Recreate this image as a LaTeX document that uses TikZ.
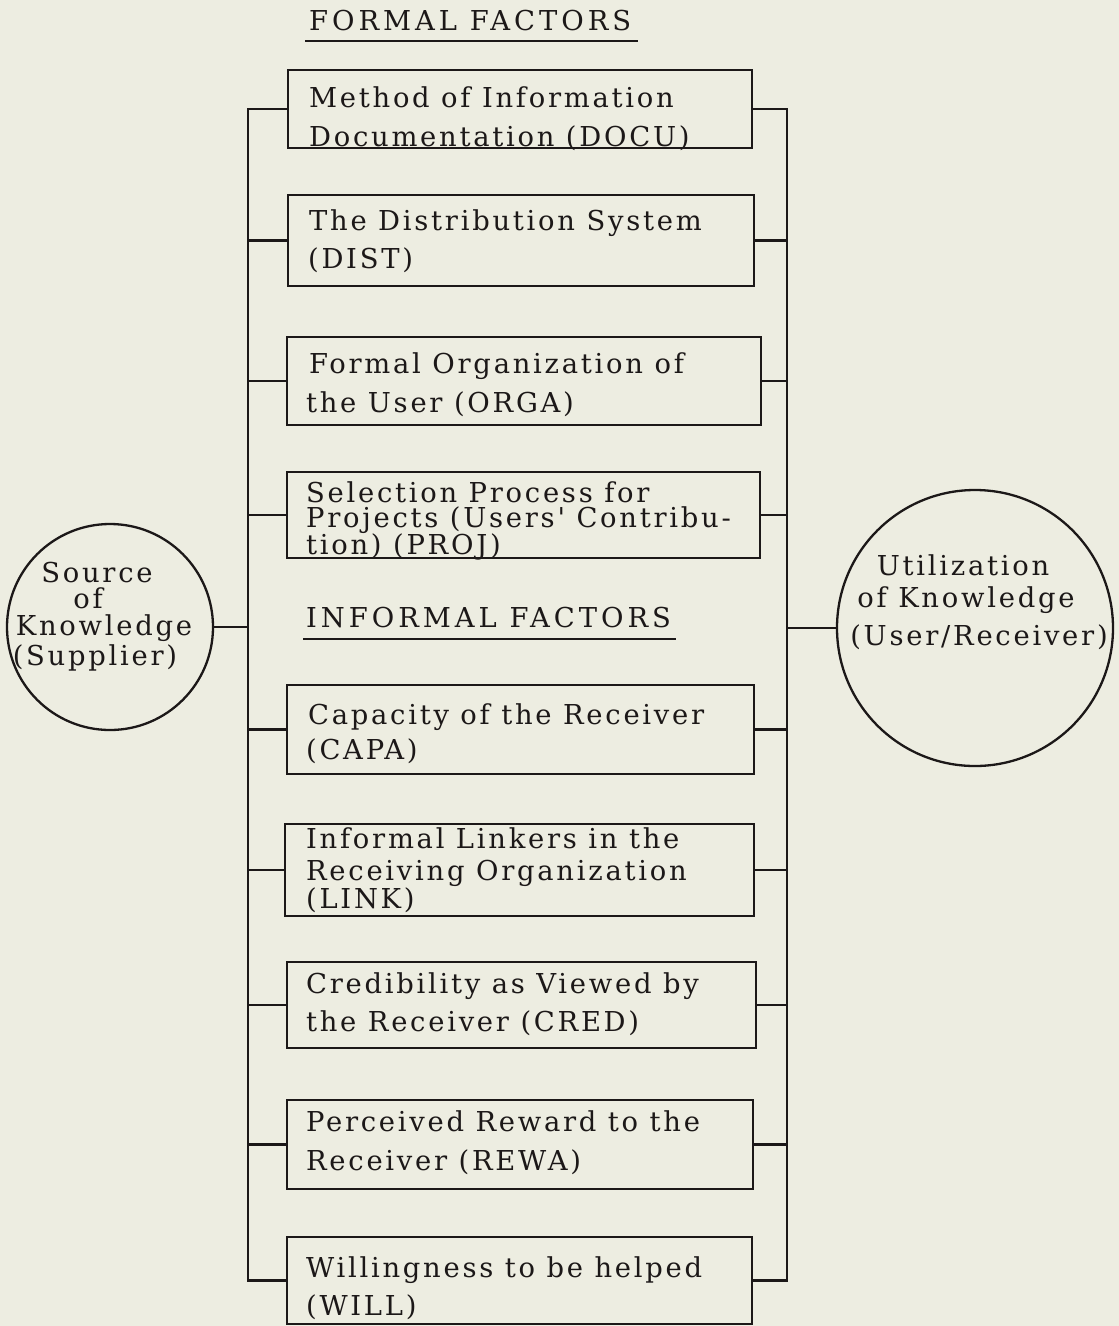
\documentclass[tikz,border=0pt]{standalone}
\usepackage{fontspec}
\newfontfamily\tw[LetterSpace=10]{DejaVu Serif}
\newfontfamily\twh[LetterSpace=14.5]{DejaVu Serif}
\definecolor{paper}{RGB}{237,237,225}
\definecolor{ink}{RGB}{28,24,24}
\begin{document}
\begin{tikzpicture}[x=1pt,y=-1pt,
  line width=2.2pt, draw=ink,
  txt/.style={inner sep=0pt, anchor=base west, text=ink, font=\tw\fontsize{27.4}{30}\selectfont},
  htxt/.style={inner sep=0pt, anchor=base west, text=ink, font=\twh\fontsize{27.4}{30}\selectfont},
  ctxt/.style={inner sep=0pt, anchor=base, text=ink, font=\tw\fontsize{27.4}{30}\selectfont},
  fbox/.style={draw=ink, line width=2.6pt, inner sep=0pt, rectangle},
  circ/.style={draw=ink, line width=2.3pt, circle, inner sep=0pt},
  wire/.style={draw=ink, line width=2.3pt}]
\fill[paper] (0,0) rectangle (1119,1326);
\useasboundingbox (0,0) rectangle (1119,1326);

% bus coordinates
\coordinate (L) at (248,0);
\coordinate (R) at (787,0);

% headings
\node[htxt] (hf) at (308,30) {FORMAL FACTORS};
\draw[wire] (305,41) coordinate (hfa) -- (638,41) coordinate (hfb);
\node[htxt] (hi) at (305,627) {INFORMAL FACTORS};
\draw[wire] (303,639) coordinate (hia) -- (676,639) coordinate (hib);

% boxes
\node[fbox, minimum width=464, minimum height=78] (b1) at (520,109) {};
\node[fbox, minimum width=466, minimum height=91] (b2) at (521,240.5) {};
\node[fbox, minimum width=474, minimum height=88] (b3) at (524,381) {};
\node[fbox, minimum width=473, minimum height=86] (b4) at (523.5,515) {};
\node[fbox, minimum width=467, minimum height=89] (b5) at (520.5,729.5) {};
\node[fbox, minimum width=469, minimum height=92] (b6) at (519.5,870) {};
\node[fbox, minimum width=469, minimum height=86] (b7) at (521.5,1005) {};
\node[fbox, minimum width=466, minimum height=89] (b8) at (520,1144.5) {};
\node[fbox, minimum width=465, minimum height=87] (b9) at (519.5,1280.5) {};

% box texts
\node[txt] (t1a) at (308,107) {Method of Information};
\node[txt] (t1b) at (308,146) {Documentation (DOCU)};
\node[txt] (t2a) at (308,230) {The Distribution System};
\node[txt] (t2b) at (307,268) {(DIST)};
\node[txt] (t3a) at (308,373) {Formal Organization of};
\node[txt] (t3b) at (305,412) {the User (ORGA)};
\node[txt] (t4a) at (305,502) {Selection Process for};
\node[txt] (t4b) at (305,527) {Projects (Users' Contribu-};
\node[txt] (t4c) at (305,554) {tion) (PROJ)};
\node[txt] (t5a) at (307,724) {Capacity of the Receiver};
\node[txt] (t5b) at (305,759) {(CAPA)};
\node[txt] (t6a) at (305,848) {Informal Linkers in the};
\node[txt] (t6b) at (305,880) {Receiving Organization};
\node[txt] (t6c) at (305,908) {(LINK)};
\node[txt] (t7a) at (305,993) {Credibility as Viewed by};
\node[txt] (t7b) at (305,1031) {the Receiver (CRED)};
\node[txt] (t8a) at (305,1131) {Perceived Reward to the};
\node[txt] (t8b) at (305,1170) {Receiver (REWA)};
\node[txt] (t9a) at (305,1277) {Willingness to be helped};
\node[txt] (t9b) at (305,1315) {(WILL)};

% circles
\node[circ, minimum size=206] (src) at (110,627) {};
\node[circ, minimum size=276] (use) at (975,628) {};
\node[ctxt] (s1) at (97,582) {Source};
\node[ctxt] (s2) at (88,608) {of};
\node[ctxt] (s3) at (104,635) {Knowledge};
\node[ctxt] (s4) at (95,665) {(Supplier)};
\node[ctxt] (u1) at (963,575) {Utilization};
\node[ctxt] (u2) at (966,607) {of Knowledge};
\node[ctxt] (u3) at (979,645) {(User/Receiver)};

% buses
\draw[wire] (b1.west) -- (b1.west -| L) -- (b9.west -| L) -- (b9.west);
\draw[wire] (b1.east) -- (b1.east -| R) -- (b9.east -| R) -- (b9.east);
\foreach \b in {b2,b3,b4,b5,b6,b7,b8}{
  \draw[wire] (\b.west) -- (\b.west -| L);
  \draw[wire] (\b.east) -- (\b.east -| R);
}
\draw[wire] (src.east) -- (src.east -| L);
\draw[wire] (use.west) -- (use.west -| R);
\end{tikzpicture}
\end{document}
